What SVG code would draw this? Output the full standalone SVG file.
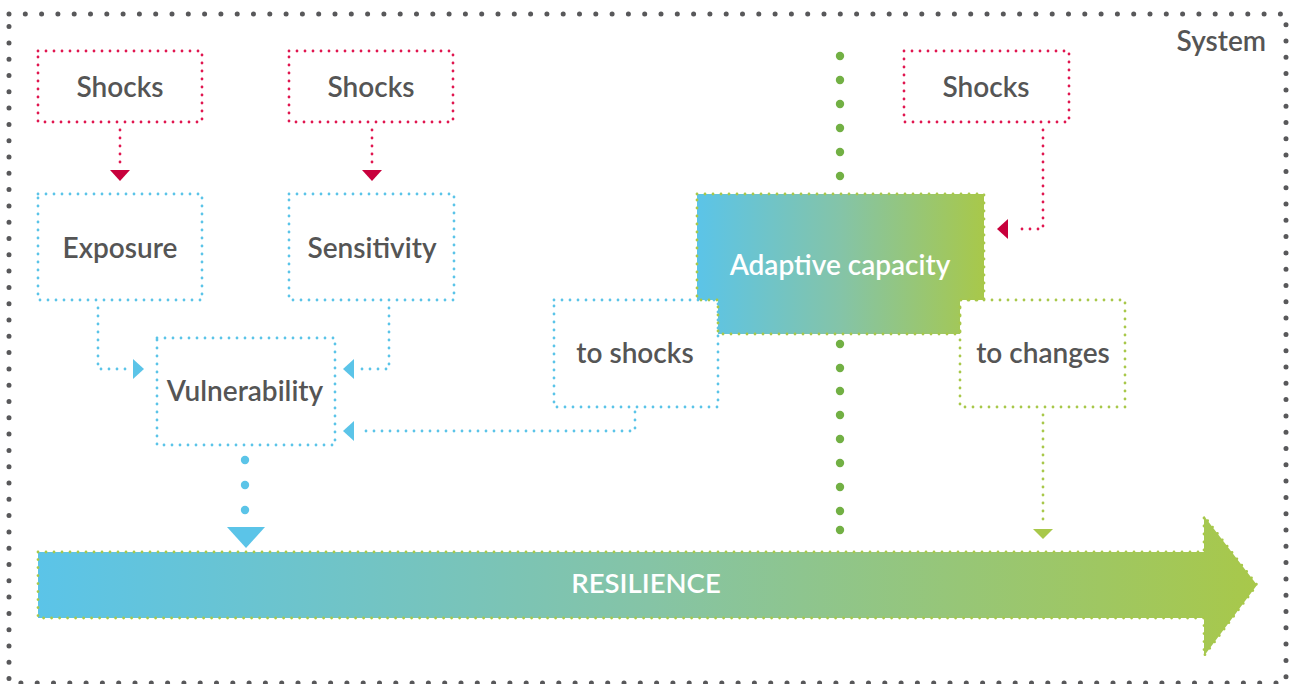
<svg xmlns="http://www.w3.org/2000/svg" width="1290" height="684" viewBox="0 0 1290 684">
<style>
.t{font-family:Lato,"Open Sans","Liberation Sans",sans-serif;font-weight:600;font-size:28px;fill:#555;text-anchor:middle}
.w{fill:#fff}
.bd{fill:none;stroke:#58585a;stroke-width:5;stroke-linecap:round;stroke-dasharray:0 16.3}
.red{fill:none;stroke:#e0164f;stroke-width:2.8;stroke-linecap:round;stroke-dasharray:0 8}
.blue{fill:none;stroke:#5bc4e8;stroke-width:2.8;stroke-linecap:round;stroke-dasharray:0 8}
.lg{stroke:#a8c84a;stroke-width:2.8;stroke-linecap:round;stroke-dasharray:0 8}
.gd{fill:#72b044}
.ra{fill:#c8003c}
.ba{fill:#5bc4e8}
.ga{fill:#a8c84a}
</style>
<defs>
<linearGradient id="g1" gradientUnits="userSpaceOnUse" x1="38" y1="0" x2="1257" y2="0">
<stop offset="0" stop-color="#5bc4e8"/><stop offset="0.5" stop-color="#85c4a6"/><stop offset="1" stop-color="#a8c84a"/>
</linearGradient>
<linearGradient id="g2" gradientUnits="userSpaceOnUse" x1="697" y1="0" x2="984" y2="0">
<stop offset="0" stop-color="#5bc4e8"/><stop offset="0.5" stop-color="#84c4a8"/><stop offset="1" stop-color="#a8c84a"/>
</linearGradient>
</defs>
<rect width="1290" height="684" fill="#fff"/>
<g id="system">
<path class="bd" d="M9,14 H1286 V683 H9 Z"/>
<text class="t" x="1266" y="51" style="text-anchor:end">System</text>
</g>
<g id="connectors">
<path class="red" d="M120,130 V165"/>
<path class="ra" d="M110,170 L130,170 L120,181 Z"/>
<path class="red" d="M372,130 V165"/>
<path class="ra" d="M362,170 L382,170 L372,181 Z"/>
<path class="red" d="M1043,130 V229 H1014"/>
<path class="ra" d="M1008,219 L1008,239 L997,229 Z"/>
<path class="blue" d="M98,308 V369 H127"/>
<path class="ba" d="M133,359 L133,379 L144,369 Z"/>
<path class="blue" d="M389,308 V369 H360"/>
<path class="ba" d="M354,359 L354,379 L343,369 Z"/>
<path class="blue" d="M635,412 V431 H360"/>
<path class="ba" d="M354,421 L354,441 L343,431 Z"/>
<circle class="ba" cx="245" cy="460" r="4.2"/>
<circle class="ba" cx="245" cy="485" r="4.2"/>
<circle class="ba" cx="245" cy="510" r="4.2"/>
<path class="ba" d="M227,527 L265,527 L246,548 Z"/>
<path class="lg" fill="none" d="M1043,415 V524"/>
<path class="ga" d="M1033,529 L1053,529 L1043,539 Z"/>
<g class="gd">
<circle cx="840" cy="56" r="4.2"/><circle cx="840" cy="80" r="4.2"/><circle cx="840" cy="104" r="4.2"/><circle cx="840" cy="128" r="4.2"/><circle cx="840" cy="152" r="4.2"/><circle cx="840" cy="176" r="4.2"/>
<circle cx="840" cy="344" r="4.2"/><circle cx="840" cy="368" r="4.2"/><circle cx="840" cy="391" r="4.2"/><circle cx="840" cy="415" r="4.2"/><circle cx="840" cy="439" r="4.2"/><circle cx="840" cy="463" r="4.2"/><circle cx="840" cy="487" r="4.2"/><circle cx="840" cy="511" r="4.2"/><circle cx="840" cy="530" r="4.2"/>
</g>
</g>
<g id="shocks1"><rect class="red" x="38" y="51" width="164" height="71"/><text class="t" x="120" y="97">Shocks</text></g>
<g id="shocks2"><rect class="red" x="289" y="51" width="164" height="71"/><text class="t" x="371" y="97">Shocks</text></g>
<g id="shocks3"><rect class="red" x="904" y="51" width="165" height="71"/><text class="t" x="986" y="97">Shocks</text></g>
<g id="exposure"><rect class="blue" x="38" y="194" width="164" height="106"/><text class="t" x="120" y="258">Exposure</text></g>
<g id="sensitivity"><rect class="blue" x="289" y="194" width="165" height="106"/><text class="t" x="372" y="258">Sensitivity</text></g>
<g id="vulnerability"><rect class="blue" x="157" y="338" width="178" height="107"/><text class="t" x="245" y="401">Vulnerability</text></g>
<g id="to-shocks"><rect class="blue" x="554" y="300" width="164" height="107"/><text class="t" x="635" y="363">to shocks</text></g>
<g id="to-changes"><rect class="lg" fill="none" x="960" y="300" width="165" height="107"/><text class="t" x="1043" y="363">to changes</text></g>
<g id="adaptive-capacity">
<path class="lg" fill="url(#g2)" d="M697,194 H984 V300 H960 V334 H718 V300 H697 Z"/>
<text class="t w" x="840" y="275">Adaptive capacity</text>
</g>
<g id="resilience">
<path class="lg" fill="url(#g1)" d="M38,552 H1204 V516 L1257,585 L1204,656 V618 H38 Z"/>
<text class="t w" x="646" y="593" style="font-size:27.5px">RESILIENCE</text>
</g>
</svg>
